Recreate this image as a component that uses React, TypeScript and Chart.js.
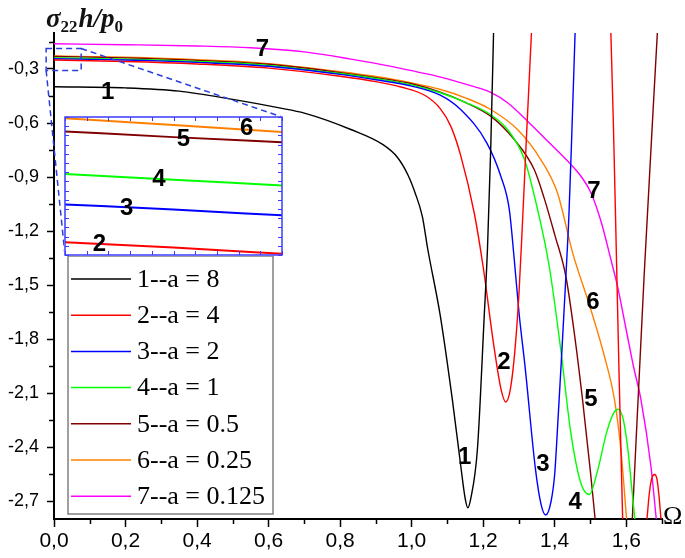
import React, { useEffect, useRef } from "react";
import { Chart, registerables } from "chart.js";

Chart.register(...registerables);

// ---------- data ----------
const OMEGA_1 = [0, 0.2, 0.35, 0.5, 0.63, 0.7, 0.83, 0.92, 0.96, 0.99, 1.01, 1.03, 1.045, 1.08, 1.114, 1.137, 1.15, 1.157, 1.165, 1.184, 1.203, 1.212, 1.221, 1.229];
const SIGMA_1 = [-0.399, -0.405, -0.423, -0.469, -0.516, -0.545, -0.636, -0.72, -0.79, -0.89, -0.99, -1.12, -1.3, -1.67, -2.14, -2.5, -2.69, -2.738, -2.69, -2.41, -1.67, -1.3, -0.75, -0.1];

const OMEGA_2 = [0, 0.2, 0.4, 0.6, 0.8, 0.9, 0.97, 1.04, 1.08, 1.11, 1.137, 1.175, 1.2, 1.23, 1.25, 1.263, 1.275, 1.288, 1.3, 1.31, 1.32, 1.335];
const SIGMA_2 = [-0.25, -0.258, -0.272, -0.295, -0.34, -0.37, -0.4, -0.45, -0.52, -0.62, -0.78, -1.1, -1.4, -1.84, -2.08, -2.15, -2.09, -1.88, -1.55, -1.15, -0.72, -0.1];
const OMEGA_2B = [1.557, 1.564, 1.571, 1.58, 1.59];
const SIGMA_2B = [-0.1, -0.6, -1.2, -2.0, -2.8];
const OMEGA_2C = [1.658, 1.665, 1.672, 1.679, 1.686, 1.692, 1.697];
const SIGMA_2C = [-2.8, -2.65, -2.57, -2.553, -2.58, -2.68, -2.8];

const OMEGA_3 = [0, 0.2, 0.4, 0.6, 0.8, 0.9, 1.0, 1.08, 1.137, 1.21, 1.25, 1.273, 1.287, 1.3, 1.318, 1.346, 1.362, 1.375, 1.39, 1.4, 1.41, 1.42, 1.43, 1.44, 1.448, 1.457];
const SIGMA_3 = [-0.243, -0.25, -0.263, -0.285, -0.33, -0.36, -0.395, -0.445, -0.525, -0.71, -0.9, -1.08, -1.36, -1.65, -1.97, -2.52, -2.72, -2.778, -2.7, -2.55, -2.22, -1.87, -1.5, -1.1, -0.65, -0.1];

const OMEGA_4 = [0, 0.2, 0.4, 0.6, 0.8, 0.9, 1.0, 1.08, 1.15, 1.22, 1.268, 1.315, 1.352, 1.385, 1.417, 1.445, 1.473, 1.497, 1.52, 1.545, 1.565, 1.578, 1.592, 1.605, 1.615, 1.624];
const SIGMA_4 = [-0.238, -0.245, -0.258, -0.28, -0.325, -0.353, -0.388, -0.432, -0.485, -0.553, -0.636, -0.8, -1.08, -1.4, -1.86, -2.32, -2.6, -2.664, -2.53, -2.32, -2.21, -2.19, -2.25, -2.42, -2.62, -2.8];

const OMEGA_5 = [0, 0.2, 0.4, 0.6, 0.8, 0.9, 1.0, 1.08, 1.15, 1.221, 1.287, 1.343, 1.371, 1.4, 1.431, 1.455, 1.478, 1.5, 1.513];
const SIGMA_5 = [-0.2305, -0.238, -0.252, -0.274, -0.32, -0.348, -0.382, -0.428, -0.485, -0.562, -0.692, -0.86, -1.02, -1.22, -1.45, -1.77, -2.14, -2.54, -2.8];
const OMEGA_5B = [1.617, 1.65, 1.687];
const SIGMA_5B = [-2.8, -1.45, -0.1];

const OMEGA_6 = [0, 0.2, 0.4, 0.6, 0.8, 0.9, 1.0, 1.081, 1.15, 1.221, 1.296, 1.361, 1.408, 1.45, 1.501, 1.539, 1.567, 1.585, 1.601];
const SIGMA_6 = [-0.228, -0.235, -0.248, -0.27, -0.315, -0.342, -0.377, -0.414, -0.46, -0.525, -0.636, -0.803, -0.99, -1.32, -1.636, -1.896, -2.136, -2.414, -2.8];

const OMEGA_7 = [0, 0.2, 0.4, 0.55, 0.7, 0.83, 0.95, 1.015, 1.081, 1.136, 1.221, 1.27, 1.324, 1.38, 1.445, 1.475, 1.501, 1.53, 1.557, 1.576, 1.6, 1.62, 1.641, 1.669, 1.684];
const SIGMA_7 = [-0.16, -0.165, -0.172, -0.182, -0.205, -0.245, -0.288, -0.316, -0.345, -0.376, -0.43, -0.49, -0.59, -0.7, -0.83, -0.9, -0.986, -1.15, -1.358, -1.51, -1.75, -1.95, -2.136, -2.507, -2.8];

// inset (magnified region near Ω = 0)
const INSET_OMEGA = [0, 0.035, 0.07];
const INSET_SIGMA_2 = [-0.2498, -0.2507, -0.2518];
const INSET_SIGMA_3 = [-0.2432, -0.2441, -0.2451];
const INSET_SIGMA_4 = [-0.2379, -0.2389, -0.2399];
const INSET_SIGMA_5 = [-0.2305, -0.2315, -0.2324];
const INSET_SIGMA_6 = [-0.2282, -0.2294, -0.2306];

const SERIES_NAMES = ["1--a = 8", "2--a = 4", "3--a = 2", "4--a = 1", "5--a = 0.5", "6--a = 0.25", "7--a = 0.125"];
const SERIES_COLORS = ["#000000", "#ff0000", "#0000ff", "#00ff00", "#800000", "#ff8000", "#ff00ff"];

const CURVE_LABELS = ["1", "7", "1", "2", "3", "4", "5", "6", "7"];
const CURVE_LABEL_X = [0.15, 0.583, 1.148, 1.258, 1.367, 1.457, 1.501, 1.507, 1.51];
const CURVE_LABEL_Y = [-0.428, -0.189, -2.458, -1.93, -2.497, -2.708, -2.136, -1.597, -0.981];

const INSET_LABELS = ["6", "5", "4", "3", "2"];
const INSET_LABEL_X = [0.0586, 0.0382, 0.0303, 0.0199, 0.0111];
const INSET_LABEL_Y = [-0.2300, -0.2319, -0.2388, -0.2439, -0.2501];

const X_TICKS = [0, 0.2, 0.4, 0.6, 0.8, 1.0, 1.2, 1.4, 1.6];
const X_MINOR = [0.1, 0.3, 0.5, 0.7, 0.9, 1.1, 1.3, 1.5, 1.7];
const Y_TICKS = [-0.3, -0.6, -0.9, -1.2, -1.5, -1.8, -2.1, -2.4, -2.7];
const Y_MINOR = [-0.15, -0.45, -0.75, -1.05, -1.35, -1.65, -1.95, -2.25, -2.55];

const ZOOM_X = [-0.022, 0.076];
const ZOOM_Y = [-0.186, -0.308];

const INSET_X_TICKS = [0, 0.007, 0.014, 0.021, 0.028, 0.035, 0.042, 0.049, 0.056, 0.063, 0.07];
const INSET_Y_TICKS = [-0.228, -0.2296, -0.2312, -0.2328, -0.2344, -0.236, -0.2376, -0.2392, -0.2408, -0.2424, -0.244, -0.2456, -0.2472, -0.2488, -0.2504, -0.252];

// ---------- layout constants ----------
const W = 685;
const H = 558;
const INSET_BOX = { left: 64, top: 116, width: 219, height: 140 };

const pts = (xs: number[], ys: number[]) => xs.map((x, i) => ({ x, y: ys[i] }));
const fmt = (v: number) => v.toFixed(1).replace(".", ",");

const mainDecor = {
  id: "mainDecor",
  afterDatasetsDraw(chart: any) {
    const { ctx, scales } = chart;
    const x = scales.x;
    const y = scales.y;
    ctx.save();
    ctx.fillStyle = "#000";
    ctx.font = 'bold 24px "Liberation Sans", Arial, sans-serif';
    ctx.textAlign = "center";
    ctx.textBaseline = "middle";
    CURVE_LABELS.forEach((t, i) => {
      ctx.fillText(t, x.getPixelForValue(CURVE_LABEL_X[i]), y.getPixelForValue(CURVE_LABEL_Y[i]));
    });
    ctx.restore();
  },
  afterDraw(chart: any) {
    const { ctx, scales, chartArea: a } = chart;
    const x = scales.x;
    const y = scales.y;
    ctx.save();
    // minor ticks
    ctx.strokeStyle = "#000";
    ctx.lineWidth = 1.5;
    ctx.beginPath();
    X_MINOR.forEach((v) => {
      const px = Math.round(x.getPixelForValue(v)) + 0.5;
      ctx.moveTo(px, a.bottom);
      ctx.lineTo(px, a.bottom + 5);
    });
    Y_MINOR.forEach((v) => {
      const py = Math.round(y.getPixelForValue(v)) + 0.5;
      ctx.moveTo(a.left, py);
      ctx.lineTo(a.left - 5, py);
    });
    ctx.stroke();

    // zoom rectangle and connectors
    const rx0 = x.getPixelForValue(ZOOM_X[0]);
    const rx1 = x.getPixelForValue(ZOOM_X[1]);
    const ry0 = y.getPixelForValue(ZOOM_Y[0]);
    const ry1 = y.getPixelForValue(ZOOM_Y[1]);
    ctx.strokeStyle = "#2a3ee0";
    ctx.lineWidth = 1.5;
    ctx.setLineDash([6, 4]);
    ctx.strokeRect(rx0, ry0, rx1 - rx0, ry1 - ry0);
    ctx.beginPath();
    ctx.moveTo(rx1, ry0);
    ctx.lineTo(INSET_BOX.left + INSET_BOX.width - 1, INSET_BOX.top + 1);
    ctx.moveTo(rx0, ry1);
    ctx.lineTo(INSET_BOX.left + 1, INSET_BOX.top + INSET_BOX.height - 1);
    ctx.stroke();
    ctx.setLineDash([]);

    // legend
    const lx = 68, ly = 256, lw = 205, lh = 258;
    ctx.fillStyle = "#fff";
    ctx.fillRect(lx, ly, lw, lh);
    ctx.strokeStyle = "#808080";
    ctx.lineWidth = 1.5;
    ctx.strokeRect(lx, ly, lw, lh);
    ctx.font = '26px "Liberation Serif", "Times New Roman", serif';
    ctx.textAlign = "left";
    ctx.textBaseline = "middle";
    SERIES_NAMES.forEach((name, i) => {
      const cy = 279 + i * 36.2;
      ctx.strokeStyle = SERIES_COLORS[i];
      ctx.lineWidth = 1.5;
      ctx.beginPath();
      ctx.moveTo(71, cy);
      ctx.lineTo(131, cy);
      ctx.stroke();
      ctx.fillStyle = "#000";
      ctx.fillText(name, 137, cy + 1);
    });

    // axis titles
    ctx.fillStyle = "#111";
    ctx.textBaseline = "alphabetic";
    ctx.textAlign = "left";
    let tx = 46;
    const big = 'italic bold 27px "Liberation Serif", "Times New Roman", serif';
    const small = 'bold 17px "Liberation Serif", "Times New Roman", serif';
    ctx.font = big;
    ctx.fillText("σ", tx, 27);
    tx += ctx.measureText("σ").width;
    ctx.font = small;
    ctx.fillText("22", tx, 32);
    tx += ctx.measureText("22").width + 1;
    ctx.font = big;
    ctx.fillText("h/p", tx, 27);
    tx += ctx.measureText("h/p").width;
    ctx.font = small;
    ctx.fillText("0", tx, 32);

    ctx.font = '26px "Liberation Serif", "Times New Roman", serif';
    ctx.fillStyle = "#000";
    ctx.fillText("Ω", 663, 524);
    ctx.restore();
  },
};

const insetDecor = {
  id: "insetDecor",
  beforeDraw(chart: any) {
    const { ctx, width, height } = chart;
    ctx.save();
    ctx.fillStyle = "#fff";
    ctx.fillRect(0, 0, width, height);
    ctx.restore();
  },
  afterDraw(chart: any) {
    const { ctx, chartArea: a, scales } = chart;
    const x = scales.x;
    const y = scales.y;
    ctx.save();
    ctx.strokeStyle = "#3b3bff";
    ctx.lineWidth = 1.5;
    ctx.strokeRect(a.left, a.top, a.right - a.left, a.bottom - a.top);
    ctx.lineWidth = 1;
    ctx.beginPath();
    INSET_X_TICKS.forEach((v) => {
      const px = Math.round(x.getPixelForValue(v)) + 0.5;
      ctx.moveTo(px, a.top);
      ctx.lineTo(px, a.top + 4);
      ctx.moveTo(px, a.bottom);
      ctx.lineTo(px, a.bottom - 4);
    });
    INSET_Y_TICKS.forEach((v) => {
      const py = Math.round(y.getPixelForValue(v)) + 0.5;
      ctx.moveTo(a.left, py);
      ctx.lineTo(a.left + 4, py);
      ctx.moveTo(a.right, py);
      ctx.lineTo(a.right - 4, py);
    });
    ctx.stroke();
    ctx.fillStyle = "#000";
    ctx.font = 'bold 24px "Liberation Sans", Arial, sans-serif';
    ctx.textAlign = "center";
    ctx.textBaseline = "middle";
    INSET_LABELS.forEach((t, i) => {
      ctx.fillText(t, x.getPixelForValue(INSET_LABEL_X[i]), y.getPixelForValue(INSET_LABEL_Y[i]));
    });
    ctx.restore();
  },
};

export default function App() {
  const mainRef = useRef<HTMLCanvasElement | null>(null);
  const insetRef = useRef<HTMLCanvasElement | null>(null);

  useEffect(() => {
    if (!mainRef.current || !insetRef.current) return;
    const line = (data: any[], color: string, width = 1.4) => ({
      data,
      borderColor: color,
      backgroundColor: color,
      borderWidth: width,
      pointRadius: 0,
      fill: false,
      cubicInterpolationMode: "monotone" as const,
    });

    const main = new Chart(mainRef.current, {
      type: "line",
      data: {
        datasets: [
          line(pts(OMEGA_1, SIGMA_1), SERIES_COLORS[0]),
          line(pts(OMEGA_2, SIGMA_2), SERIES_COLORS[1]),
          line(pts(OMEGA_2B, SIGMA_2B), SERIES_COLORS[1]),
          line(pts(OMEGA_2C, SIGMA_2C), SERIES_COLORS[1]),
          line(pts(OMEGA_3, SIGMA_3), SERIES_COLORS[2]),
          line(pts(OMEGA_4, SIGMA_4), SERIES_COLORS[3]),
          line(pts(OMEGA_5, SIGMA_5), SERIES_COLORS[4]),
          line(pts(OMEGA_5B, SIGMA_5B), SERIES_COLORS[4]),
          line(pts(OMEGA_6, SIGMA_6), SERIES_COLORS[5]),
          line(pts(OMEGA_7, SIGMA_7), SERIES_COLORS[6]),
        ],
      },
      options: {
        responsive: false,
        animation: false,
        devicePixelRatio: 1,
        layout: { padding: { top: 33, right: 23, left: 0, bottom: 0 } },
        plugins: { legend: { display: false }, tooltip: { enabled: false } },
        scales: {
          x: {
            type: "linear",
            min: 0,
            max: 1.7,
            grid: { display: true, drawOnChartArea: false, drawTicks: true, tickLength: 8, tickColor: "#000", tickWidth: 1.5 },
            border: { display: true, color: "#000", width: 2 },
            ticks: {
              color: "#000",
              padding: 2,
              maxRotation: 0,
              autoSkip: false,
              font: { family: '"Liberation Sans Narrow", "Liberation Sans", Arial, sans-serif', size: 21 },
              callback: (v: any) => fmt(Number(v)),
            },
            afterBuildTicks: (s: any) => {
              s.ticks = X_TICKS.map((v) => ({ value: v }));
            },
            afterFit: (s: any) => {
              s.height = H - 519;
            },
          },
          y: {
            type: "linear",
            min: -2.8,
            max: -0.1,
            grid: { display: true, drawOnChartArea: false, drawTicks: true, tickLength: 7, tickColor: "#000", tickWidth: 1.5 },
            border: { display: true, color: "#000", width: 2 },
            ticks: {
              color: "#000",
              padding: 8,
              autoSkip: false,
              font: { family: '"Liberation Sans", Arial, sans-serif', size: 18 },
              callback: (v: any) => fmt(Number(v)),
            },
            afterBuildTicks: (s: any) => {
              s.ticks = Y_TICKS.map((v) => ({ value: v }));
            },
            afterFit: (s: any) => {
              s.width = 54;
            },
          },
        },
      },
      plugins: [mainDecor],
    });

    const inset = new Chart(insetRef.current, {
      type: "line",
      data: {
        datasets: [
          line(pts(INSET_OMEGA, INSET_SIGMA_2), SERIES_COLORS[1], 2),
          line(pts(INSET_OMEGA, INSET_SIGMA_3), SERIES_COLORS[2], 2),
          line(pts(INSET_OMEGA, INSET_SIGMA_4), SERIES_COLORS[3], 2),
          line(pts(INSET_OMEGA, INSET_SIGMA_5), SERIES_COLORS[4], 2),
          line(pts(INSET_OMEGA, INSET_SIGMA_6), SERIES_COLORS[5], 2),
        ],
      },
      options: {
        responsive: false,
        animation: false,
        devicePixelRatio: 1,
        layout: { padding: 1 },
        plugins: { legend: { display: false }, tooltip: { enabled: false } },
        scales: {
          x: { type: "linear", min: 0, max: 0.07, display: false },
          y: { type: "linear", min: -0.252, max: -0.228, display: false },
        },
      },
      plugins: [insetDecor],
    });

    return () => {
      main.destroy();
      inset.destroy();
    };
  }, []);

  return (
    <div style={{ position: "absolute", left: 0, top: 0, width: W, height: H, background: "#fff" }}>
      <canvas ref={mainRef} width={W} height={H} style={{ position: "absolute", left: 0, top: 0 }} />
      <canvas
        ref={insetRef}
        width={INSET_BOX.width}
        height={INSET_BOX.height}
        style={{ position: "absolute", left: INSET_BOX.left, top: INSET_BOX.top }}
      />
    </div>
  );
}
